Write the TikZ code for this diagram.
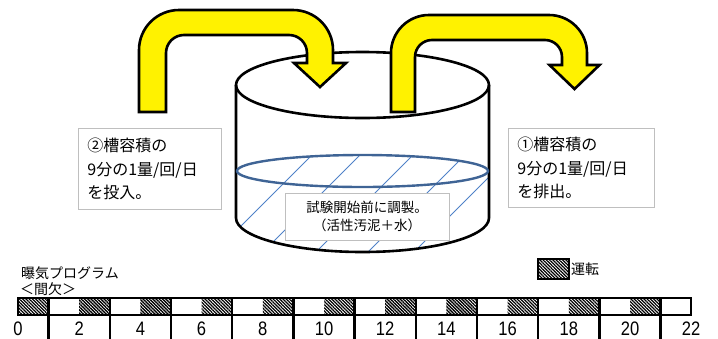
\documentclass[tikz,border=0pt]{standalone}
\usepackage{fontspec}
\setmainfont{Noto Sans CJK JP}
\newfontfamily\numfont[FakeStretch=0.85]{Liberation Sans}
\usetikzlibrary{patterns.meta}

\begin{document}
\begin{tikzpicture}[x=1bp,y=-1bp,
  uarrow/.style={fill=yellow, draw=black, line width=2.6bp, line join=miter},
  tank/.style={draw=black, line width=2.6bp},
  water/.style={draw=waterblue, line width=2.4bp},
  hatchline/.style={draw=hatchblue, line width=0.8bp},
  note/.style={draw=black!25, line width=0.9bp, fill=white, inner ysep=0bp},
  runhatch/.style={pattern={Lines[angle=-45,distance=2.3bp,line width=1.3bp]}},
  bar/.style={draw=black, line width=2.4bp},
  numlab/.style={font=\numfont\fontsize{19.5bp}{19.5bp}\selectfont, inner sep=0bp},
  caption/.style={font=\fontsize{14bp}{16bp}\selectfont, inner sep=0bp, anchor=west},
  ]
\definecolor{waterblue}{HTML}{3F6495}
\definecolor{hatchblue}{HTML}{4F81C8}
\useasboundingbox (0,0) rectangle (718,338);

% liquid in the tank: sparse diagonal hatching
\begin{scope}
  \clip (237,171) arc[start angle=180,end angle=360,x radius=125.5,y radius=16]
        -- (488,218) arc[start angle=0,end angle=180,x radius=125.5,y radius=33] -- cycle;
  \foreach \s in {467,515,568,620,666}
    \draw[hatchline] ({\s-270},270) -- ({\s-140},140);
\end{scope}

% tank body and liquid surface
\draw[tank] (236,85) -- (236,218)
  arc[start angle=180,end angle=0,x radius=126.5,y radius=34] -- (489,85);
\draw[water] (362.5,171) ellipse[x radius=125.5,y radius=16];
\draw[tank] (362.5,85) ellipse[x radius=126.5,y radius=33];

% note inside the tank
\node[note, minimum width=164bp, minimum height=47bp, align=center,
  font=\fontsize{13.5bp}{18.5bp}\selectfont] (prep) at (367,216.5)
  {試験開始前に調製。\\（活性汚泥＋水）};

% feed arrow (into the tank)
\draw[uarrow] (139,112) [rounded corners=40bp] -- (139,10) -- (333,10)
  [sharp corners] -- (333,63) -- (346,63) -- (320,87) -- (294,63) -- (307,63)
  [rounded corners=18bp] -- (307,35) -- (166,35)
  [sharp corners] -- (166,112) -- cycle;

% discharge arrow (out of the tank)
\draw[uarrow] (391,112) [rounded corners=38bp] -- (391,15) -- (587,15)
  [sharp corners] -- (587,65) -- (599.5,65) -- (574.5,89) -- (549.5,65) -- (562,65)
  [rounded corners=17bp] -- (562,40) -- (415,40)
  [sharp corners] -- (415,112) -- cycle;

% side notes
\node[note, anchor=north west, minimum width=143bp, minimum height=81bp,
  text width=125bp, inner xsep=9bp, align=left,
  font=\fontsize{16bp}{23.5bp}\selectfont] (feed) at (78,128)
  {②槽容積の\\9分の1量/回/日\\を投入。};
\node[note, anchor=north west, minimum width=146bp, minimum height=79bp,
  text width=128bp, inner xsep=9bp, align=left,
  font=\fontsize{16bp}{23.5bp}\selectfont] (drain) at (508,128)
  {①槽容積の\\9分の1量/回/日\\を排出。};

% aeration programme
\node[caption] (prog) at (21,273) {曝気プログラム};
\node[caption] (mode) at (20,289.5) {＜間欠＞};

% legend
\draw[runhatch, draw=black, line width=1.6bp] (538,259) rectangle (569,279);
\node[caption] (run) at (571,269.5) {運転};

% timeline bar
\foreach \k in {0,...,10}
  \fill[runhatch] ({18+2*\k*30.6},298) rectangle ({18+(2*\k+1)*30.6},315);
\draw[bar] (18,298) rectangle (691.2,315);
\foreach \k in {1,3,...,21}
  \draw[bar] ({18+\k*30.6},298) -- ({18+\k*30.6},340);
\foreach \n in {0,2,...,22}
  \node[numlab, anchor=base] (t\n) at ({18+\n*30.6},335.5) {\n};
\end{tikzpicture}
\end{document}
